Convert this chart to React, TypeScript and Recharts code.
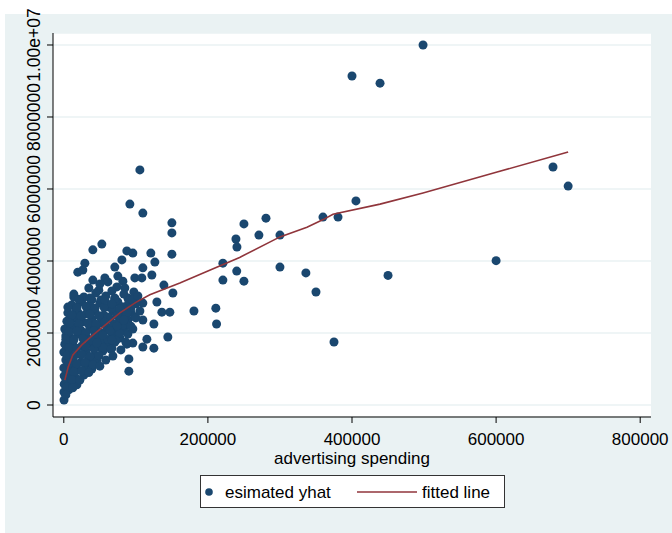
import { CartesianGrid, Scatter, ScatterChart, XAxis, YAxis } from "recharts";

const font = "'Liberation Sans', Arial, Helvetica, sans-serif";
const navy = "#1a476f";
const maroon = "#90353b";
const bluishGray = "#eaf2f3";

const xTicks = [0, 200000, 400000, 600000, 800000];
const yTicks = [0, 2000000, 4000000, 6000000, 8000000, 10000000];

// [advertising spending, estimated yhat]
const outlierPoints: [number, number][] = [
  [498600, 10000000], [400000, 9140000], [438900, 8940000], [679000, 6610000],
  [700000, 6080000], [405500, 5670000], [359700, 5220000], [380600, 5220000],
  [280600, 5190000], [250000, 5030000], [238900, 4610000], [240300, 4390000],
  [270800, 4720000], [300000, 4720000], [240000, 3720000], [250000, 3440000],
  [300000, 3830000], [336000, 3670000], [350000, 3140000], [375000, 1750000],
  [450000, 3600000], [600000, 4010000], [220800, 3940000], [220800, 3470000],
  [211000, 2690000], [212000, 2250000], [180600, 2610000],
];

const midPoints: [number, number][] = [
  [105600, 6530000], [91700, 5580000], [109700, 5330000], [150000, 5060000],
  [150000, 4780000], [150000, 4190000], [52800, 4470000], [40300, 4310000],
  [29200, 3940000], [19400, 3690000], [26400, 3750000], [87500, 4280000],
  [95800, 4220000], [120800, 4220000], [126400, 3970000], [80600, 4030000],
  [70800, 3830000], [109700, 3810000], [122200, 3610000], [98600, 3530000],
  [108300, 3530000], [82000, 3440000], [138900, 3330000], [151400, 3110000],
  [70800, 2970000], [88900, 2970000], [129200, 2860000], [109700, 2830000],
  [136100, 2580000], [147200, 2580000], [13900, 3000000], [25000, 2920000],
  [34700, 3250000], [48600, 3190000], [57000, 3530000], [73600, 3280000],
  [38900, 2920000], [19400, 2580000], [109700, 2360000], [125000, 2250000],
  [144400, 1890000], [115300, 1830000], [109700, 1610000], [125000, 1580000],
  [90300, 1280000], [90300, 940000], [87500, 1690000], [95800, 1720000],
  [66700, 1580000], [9700, 2390000], [2800, 1920000], [61100, 3420000],
  [75000, 3580000], [50000, 3360000], [84700, 3250000], [40300, 3470000],
];

const clusterPoints: [number, number][] = [
  [13900, 3080000], [27800, 3000000], [44400, 3110000], [58300, 3030000],
  [66700, 3170000], [83300, 3080000], [97200, 3140000],
  [11100, 2780000], [22200, 2860000], [36100, 2750000], [50000, 2830000],
  [62500, 2720000], [75000, 2860000], [87500, 2750000], [100000, 2810000],
  [5600, 2560000], [16700, 2640000], [30600, 2530000], [43100, 2610000],
  [55600, 2500000], [68100, 2610000], [80600, 2530000], [93100, 2580000],
  [4200, 2330000], [15300, 2420000], [26400, 2310000], [38900, 2390000],
  [51400, 2280000], [63900, 2390000], [76400, 2310000], [88900, 2360000],
  [1400, 2110000], [12500, 2190000], [23600, 2080000], [36100, 2170000],
  [47200, 2060000], [59700, 2170000], [72200, 2080000], [83300, 2140000],
  [8300, 1890000], [19400, 1970000], [31900, 1860000], [43100, 1940000],
  [55600, 1830000], [68100, 1940000], [77800, 1860000],
  [1400, 1690000], [12500, 1750000], [25000, 1640000], [36100, 1720000],
  [48600, 1610000], [59700, 1690000], [70800, 1750000],
  [0, 1470000], [8300, 1530000], [19400, 1420000], [30600, 1500000],
  [43100, 1390000], [54200, 1500000],
  [2800, 1250000], [12500, 1310000], [23600, 1190000], [34700, 1280000],
  [45800, 1220000],
  [0, 1030000], [9700, 1080000], [19400, 970000], [30600, 1060000], [38900, 1000000],
  [500, 810000], [6900, 860000], [16700, 750000], [27800, 830000],
  [600, 580000], [8300, 640000], [18100, 560000],
  [200, 360000], [6900, 420000],
  [300, 140000],
];

const clusterFillPoints: [number, number][] = [
  [20800, 2940000], [36100, 2970000], [51400, 2920000], [70800, 2950000], [90300, 2900000],
  [5600, 2720000], [18100, 2700000], [30600, 2740000], [43100, 2690000],
  [55600, 2720000], [68100, 2680000], [80600, 2730000], [93100, 2700000],
  [11100, 2500000], [23600, 2470000], [36100, 2520000], [48600, 2480000],
  [61100, 2440000], [73600, 2490000], [86100, 2460000], [98600, 2450000],
  [8300, 2280000], [20800, 2250000], [33300, 2270000], [44400, 2240000],
  [56900, 2300000], [69400, 2260000], [81900, 2220000],
  [6900, 2030000], [18100, 2050000], [30600, 2010000], [41700, 2060000],
  [54200, 2000000], [65300, 2040000], [77800, 1990000],
  [2800, 1830000], [13900, 1810000], [26400, 1850000], [37500, 1800000],
  [50000, 1780000], [61100, 1820000], [72200, 1790000],
  [6900, 1600000], [18100, 1580000], [30600, 1620000], [41700, 1560000],
  [54200, 1590000], [65300, 1550000],
  [4200, 1380000], [13900, 1360000], [25000, 1400000], [36100, 1350000], [48600, 1370000],
  [6900, 1160000], [18100, 1140000], [29200, 1180000], [40300, 1120000],
  [4200, 940000], [13900, 920000], [25000, 950000], [34700, 900000],
  [2800, 720000], [11100, 700000], [22200, 690000],
  [4200, 500000], [12500, 480000],
  [2800, 280000],
  [88900, 1970000], [95800, 2110000], [86100, 1750000], [79200, 1530000],
  [68100, 1360000], [58300, 1250000], [50000, 1080000], [100000, 2420000],
  [105600, 2610000], [57000, 2920000], [66700, 2810000], [77800, 2670000],
  [87500, 2560000], [95800, 2920000], [102800, 3030000], [83300, 2360000],
  [93100, 2190000], [73600, 2190000], [63900, 2060000], [54200, 1940000],
  [45800, 1720000], [66700, 1810000],
];

const fittedPoints: [number, number][] = [
  [1400, 690000], [6000, 1050000], [12500, 1390000], [25000, 1670000],
  [40300, 1940000], [61100, 2280000], [77800, 2560000], [100000, 2850000],
  [119400, 3060000], [161100, 3390000], [200000, 3720000], [244000, 4100000],
  [300000, 4670000], [337500, 4940000], [360000, 5150000], [373600, 5300000],
  [438900, 5580000], [498600, 5890000], [601400, 6470000], [700000, 7030000],
];

const yhatData = [...outlierPoints, ...midPoints, ...clusterPoints, ...clusterFillPoints].map(
  ([x, y]) => ({ x, y })
);
const fittedData = fittedPoints.map(([x, y]) => ({ x, y }));

const formatY = (v: number) => (v >= 10000000 ? "1.00e+07" : String(v));

function YTick({ x, y, payload }: any) {
  return (
    <text
      x={x}
      y={y}
      transform={`rotate(-90, ${x}, ${y})`}
      textAnchor="middle"
      fontSize={17.5}
      fontFamily={font}
      fill="#000"
    >
      {formatY(payload.value)}
    </text>
  );
}

const Dot = (props: any) => <circle cx={props.cx} cy={props.cy} r={4.5} fill={navy} />;
const NoDot = () => <g />;

export default function App() {
  return (
    <div style={{ position: "absolute", left: 0, top: 0, width: 672, height: 533, overflow: "hidden" }}>
      <div
        style={{ position: "absolute", left: 5, top: 14, width: 667, height: 519, background: bluishGray }}
      />
      <div style={{ position: "absolute", left: 0, top: 0 }}>
        <ScatterChart
          width={672}
          height={533}
          margin={{ top: 33, right: 21, bottom: 66, left: 8 }}
          style={{ fontFamily: font }}
        >
          <CartesianGrid vertical={false} stroke={bluishGray} strokeWidth={1.5} fill="#fff" />
          <XAxis
            type="number"
            dataKey="x"
            domain={[-15000, 815000]}
            ticks={xTicks}
            height={50}
            tickSize={6}
            tickMargin={10}
            tick={{ fontSize: 17, fill: "#000", fontFamily: font }}
            axisLine={{ stroke: "#000" }}
            tickLine={{ stroke: "#000" }}
            label={{
              value: "advertising spending",
              position: "insideBottom",
              offset: 3,
              fontSize: 17,
              fill: "#000",
              fontFamily: font,
            }}
          />
          <YAxis
            type="number"
            dataKey="y"
            domain={[-333000, 10333000]}
            ticks={yTicks}
            width={45}
            tickSize={6}
            tickMargin={7}
            tick={<YTick />}
            axisLine={{ stroke: "#000" }}
            tickLine={{ stroke: "#000" }}
          />
          <Scatter data={yhatData} shape={Dot} isAnimationActive={false} />
          <Scatter
            data={fittedData}
            shape={NoDot}
            line={{ stroke: maroon, strokeWidth: 1.6 }}
            isAnimationActive={false}
          />
        </ScatterChart>
      </div>
      <svg
        width={307}
        height={35}
        style={{ position: "absolute", left: 199, top: 474, fontFamily: font }}
      >
        <rect x={1.5} y={1.5} width={304} height={32} fill="#fff" stroke="#333" strokeWidth={1} />
        <circle cx={10} cy={18} r={3.8} fill={navy} />
        <text x={26} y={24} fontSize={17} fill="#000">esimated yhat</text>
        <line x1={158} x2={218} y1={18} y2={18} stroke={maroon} strokeWidth={1.6} />
        <text x={223} y={24} fontSize={17} fill="#000">fitted line</text>
      </svg>
    </div>
  );
}
